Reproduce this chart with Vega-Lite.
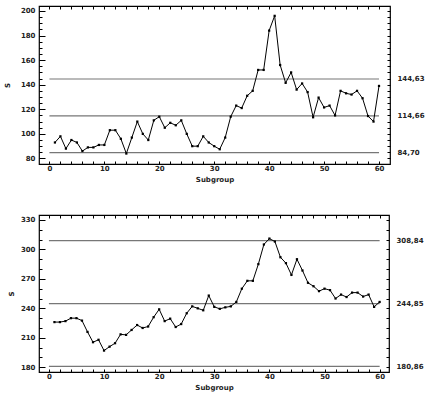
{
  "$schema": "https://vega.github.io/schema/vega-lite/v6.json",
  "padding": {"left": 2, "top": 4, "right": 2, "bottom": 2},
  "background": "white",
  "spacing": 30,
  "config": {
    "view": {"stroke": "black", "strokeWidth": 1.2},
    "axis": {"labelFont": "DejaVu Sans", "labelFontWeight": "bold", "labelFontSize": 7, "labelColor": "#222",
             "titleFont": "DejaVu Sans", "titleFontWeight": "bold", "titleFontSize": 7, "titleColor": "#222",
             "tickColor": "black", "tickWidth": 1, "domain": false, "grid": false}
  },
  "datasets": {
    "top": [
      {"subgroup":1,"s":93},{"subgroup":2,"s":98},{"subgroup":3,"s":88},{"subgroup":4,"s":95},{"subgroup":5,"s":93},
      {"subgroup":6,"s":86},{"subgroup":7,"s":89},{"subgroup":8,"s":89},{"subgroup":9,"s":91},{"subgroup":10,"s":91},
      {"subgroup":11,"s":103},{"subgroup":12,"s":103},{"subgroup":13,"s":96},{"subgroup":14,"s":84},{"subgroup":15,"s":97},
      {"subgroup":16,"s":110},{"subgroup":17,"s":100},{"subgroup":18,"s":95},{"subgroup":19,"s":111},{"subgroup":20,"s":114},
      {"subgroup":21,"s":105},{"subgroup":22,"s":109},{"subgroup":23,"s":107},{"subgroup":24,"s":111},{"subgroup":25,"s":100},
      {"subgroup":26,"s":90},{"subgroup":27,"s":90},{"subgroup":28,"s":98},{"subgroup":29,"s":93},{"subgroup":30,"s":90},
      {"subgroup":31,"s":87.5},{"subgroup":32,"s":97},{"subgroup":33,"s":114},{"subgroup":34,"s":123},{"subgroup":35,"s":121},
      {"subgroup":36,"s":131},{"subgroup":37,"s":135},{"subgroup":38,"s":152},{"subgroup":39,"s":152},{"subgroup":40,"s":184},
      {"subgroup":41,"s":196},{"subgroup":42,"s":156},{"subgroup":43,"s":141.5},{"subgroup":44,"s":150},{"subgroup":45,"s":136},
      {"subgroup":46,"s":141},{"subgroup":47,"s":134},{"subgroup":48,"s":113.5},{"subgroup":49,"s":129.5},{"subgroup":50,"s":121.5},
      {"subgroup":51,"s":123},{"subgroup":52,"s":115},{"subgroup":53,"s":135},{"subgroup":54,"s":133},{"subgroup":55,"s":132},
      {"subgroup":56,"s":135},{"subgroup":57,"s":129},{"subgroup":58,"s":114.5},{"subgroup":59,"s":110},{"subgroup":60,"s":139}
    ],
    "topLimits": [{"limit":144.63},{"limit":114.66},{"limit":84.70}],
    "bottom": [
      {"subgroup":1,"s":226},{"subgroup":2,"s":226},{"subgroup":3,"s":227},{"subgroup":4,"s":230},{"subgroup":5,"s":230},
      {"subgroup":6,"s":227.5},{"subgroup":7,"s":216},{"subgroup":8,"s":205.5},{"subgroup":9,"s":208},{"subgroup":10,"s":197},
      {"subgroup":11,"s":201},{"subgroup":12,"s":204.5},{"subgroup":13,"s":213.5},{"subgroup":14,"s":213},{"subgroup":15,"s":218},
      {"subgroup":16,"s":223},{"subgroup":17,"s":220},{"subgroup":18,"s":221.5},{"subgroup":19,"s":231},{"subgroup":20,"s":239},
      {"subgroup":21,"s":227},{"subgroup":22,"s":229.5},{"subgroup":23,"s":221},{"subgroup":24,"s":224},{"subgroup":25,"s":235},
      {"subgroup":26,"s":242},{"subgroup":27,"s":240},{"subgroup":28,"s":238},{"subgroup":29,"s":253},{"subgroup":30,"s":241.5},
      {"subgroup":31,"s":239.5},{"subgroup":32,"s":241},{"subgroup":33,"s":242},{"subgroup":34,"s":246.5},{"subgroup":35,"s":260},
      {"subgroup":36,"s":268},{"subgroup":37,"s":268},{"subgroup":38,"s":285},{"subgroup":39,"s":305},{"subgroup":40,"s":311},
      {"subgroup":41,"s":308},{"subgroup":42,"s":292},{"subgroup":43,"s":286},{"subgroup":44,"s":274},{"subgroup":45,"s":290},
      {"subgroup":46,"s":278.5},{"subgroup":47,"s":266},{"subgroup":48,"s":262.5},{"subgroup":49,"s":257.5},{"subgroup":50,"s":260},
      {"subgroup":51,"s":258.5},{"subgroup":52,"s":250},{"subgroup":53,"s":254},{"subgroup":54,"s":251.5},{"subgroup":55,"s":256},
      {"subgroup":56,"s":256},{"subgroup":57,"s":252},{"subgroup":58,"s":254},{"subgroup":59,"s":241.5},{"subgroup":60,"s":246.5}
    ],
    "bottomLimits": [{"limit":308.84},{"limit":244.85},{"limit":180.86}]
  },
  "vconcat": [
    {
      "width": 351, "height": 158,
      "layer": [
        {
          "data": {"name": "topLimits"},
          "mark": {"type": "rule", "color": "#777", "strokeWidth": 1.2},
          "encoding": {
            "x": {"datum": 0, "type": "quantitative", "scale": {"domain": [-1.9, 62], "nice": false, "zero": false},
                  "axis": {"orient": "top", "title": null, "values": [0,2,4,6,8,10,12,14,16,18,20,22,24,26,28,30,32,34,36,38,40,42,44,46,48,50,52,54,56,58,60], "labels": false, "tickSize": -3}},
            "x2": {"datum": 60},
            "y": {"field": "limit", "type": "quantitative", "scale": {"domain": [75.5, 204], "nice": false, "zero": false},
                  "axis": {"orient": "right", "title": null,
                           "values": [80,85,90,95,100,105,110,115,120,125,130,135,140,145,150,155,160,165,170,175,180,185,190,195,200,84.70,114.66,144.63],
                           "labelExpr": "datum.value % 5 === 0 ? '' : replace(format(datum.value, '.2f'), '.', ',')",
                           "tickSize": {"condition": {"test": "datum.value % 5 !== 0", "value": 0}, "value": -3},
                           "labelPadding": 7}}
          }
        },
        {
          "data": {"name": "top"},
          "mark": {"type": "line", "color": "black", "strokeWidth": 1, "point": {"shape": "square", "size": 5, "filled": true, "color": "black"}},
          "encoding": {
            "x": {"field": "subgroup", "type": "quantitative",
                  "axis": {"orient": "bottom", "title": "Subgroup", "values": [0,2,4,6,8,10,12,14,16,18,20,22,24,26,28,30,32,34,36,38,40,42,44,46,48,50,52,54,56,58,60],
                           "labelExpr": "datum.value % 10 === 0 ? datum.label : ''", "tickSize": -3, "labelPadding": 3, "titlePadding": 4}},
            "y": {"field": "s", "type": "quantitative",
                  "axis": {"orient": "left", "title": "S", "values": [80,85,90,95,100,105,110,115,120,125,130,135,140,145,150,155,160,165,170,175,180,185,190,195,200],
                           "labelExpr": "datum.value % 20 === 0 ? datum.label : ''",
                           "tickSize": {"condition": {"test": "datum.value % 20 === 0", "value": -6}, "value": -3},
                           "labelPadding": 10, "titlePadding": 10}}
          }
        }
      ],
      "resolve": {"axis": {"x": "independent", "y": "independent"}}
    },
    {
      "width": 350, "height": 157,
      "layer": [
        {
          "data": {"name": "bottomLimits"},
          "mark": {"type": "rule", "color": "#777", "strokeWidth": 1.2},
          "encoding": {
            "x": {"datum": 0, "type": "quantitative", "scale": {"domain": [-1.8, 61.7], "nice": false, "zero": false},
                  "axis": {"orient": "top", "title": null, "values": [0,2,4,6,8,10,12,14,16,18,20,22,24,26,28,30,32,34,36,38,40,42,44,46,48,50,52,54,56,58,60], "labels": false, "tickSize": -3}},
            "x2": {"datum": 60},
            "y": {"field": "limit", "type": "quantitative", "scale": {"domain": [175.2, 335], "nice": false, "zero": false},
                  "axis": {"orient": "right", "title": null,
                           "values": [180,190,200,210,220,230,240,250,260,270,280,290,300,310,320,330,180.86,244.85,308.84],
                           "labelExpr": "datum.value % 10 === 0 ? '' : replace(format(datum.value, '.2f'), '.', ',')",
                           "tickSize": {"condition": {"test": "datum.value % 10 !== 0", "value": 0}, "value": -3},
                           "labelPadding": 7}}
          }
        },
        {
          "data": {"name": "bottom"},
          "mark": {"type": "line", "color": "black", "strokeWidth": 1, "point": {"shape": "square", "size": 5, "filled": true, "color": "black"}},
          "encoding": {
            "x": {"field": "subgroup", "type": "quantitative",
                  "axis": {"orient": "bottom", "title": "Subgroup", "values": [0,2,4,6,8,10,12,14,16,18,20,22,24,26,28,30,32,34,36,38,40,42,44,46,48,50,52,54,56,58,60],
                           "labelExpr": "datum.value % 10 === 0 ? datum.label : ''", "tickSize": -3, "labelPadding": 3, "titlePadding": 4}},
            "y": {"field": "s", "type": "quantitative",
                  "axis": {"orient": "left", "title": "S", "values": [180,190,200,210,220,230,240,250,260,270,280,290,300,310,320,330],
                           "labelExpr": "datum.value % 30 === 0 ? datum.label : ''",
                           "tickSize": {"condition": {"test": "datum.value % 30 === 0", "value": -6}, "value": -3},
                           "labelPadding": 10, "titlePadding": 6}}
          }
        }
      ],
      "resolve": {"axis": {"x": "independent", "y": "independent"}}
    }
  ]
}
